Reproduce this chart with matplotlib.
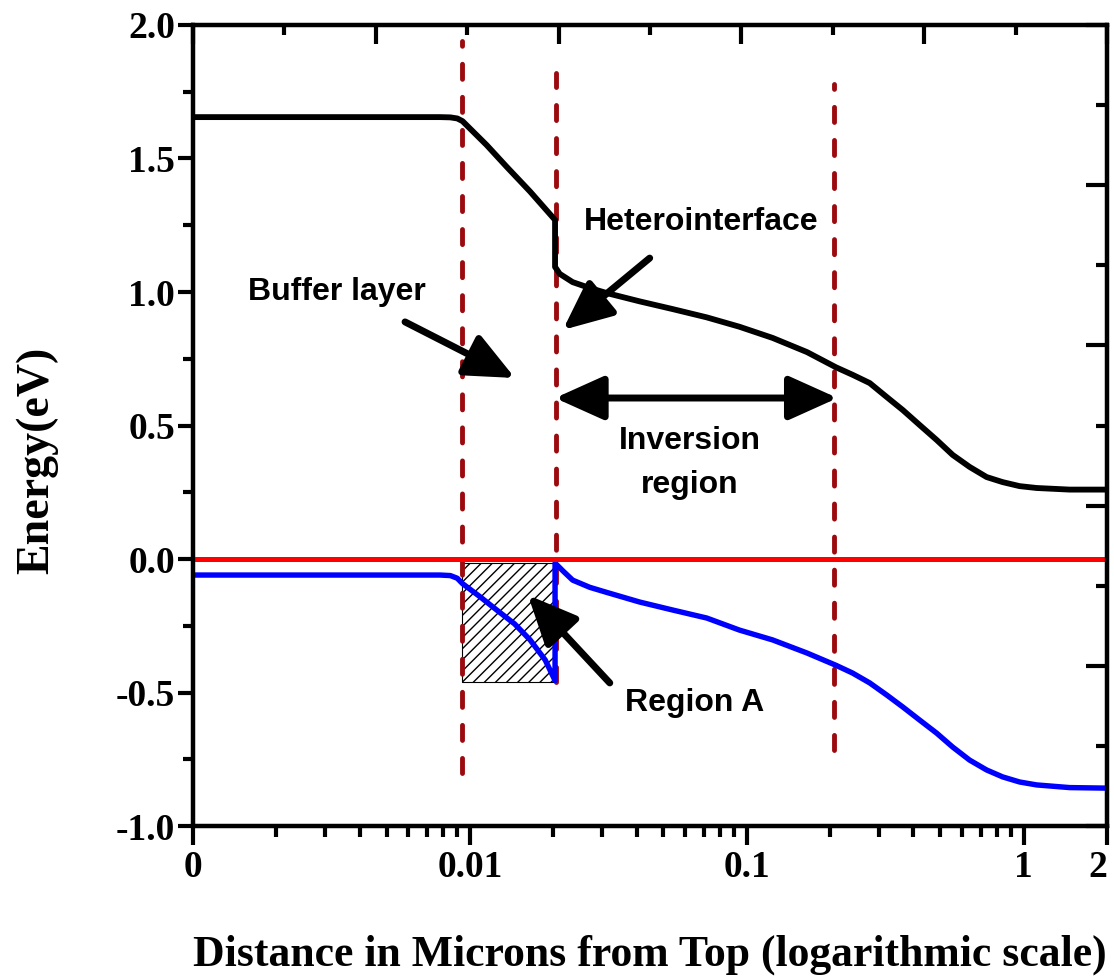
import matplotlib.pyplot as plt
import matplotlib.ticker as mticker
import numpy as np

# === Data ===
# distance from top in microns, log axis; leftmost edge (0.001) is labelled "0"
cb_x = [0.001, 0.0078, 0.0085, 0.009, 0.0094, 0.0115, 0.0136, 0.0165, 0.0203, 0.0203,
        0.0211, 0.0235, 0.0271, 0.0312, 0.041, 0.054, 0.0717, 0.094, 0.124, 0.165,
        0.21, 0.241, 0.278, 0.32, 0.366, 0.421, 0.485, 0.554, 0.638, 0.735,
        0.84, 0.967, 1.114, 1.466, 2.0]
cb_y = [1.655, 1.655, 1.654, 1.65, 1.64, 1.55, 1.468, 1.376, 1.27, 1.094,
        1.068, 1.037, 1.015, 0.996, 0.965, 0.936, 0.905, 0.87, 0.828, 0.775,
        0.718, 0.69, 0.659, 0.607, 0.558, 0.502, 0.446, 0.39, 0.345, 0.307,
        0.288, 0.273, 0.266, 0.26, 0.26]

vb_x = [0.001, 0.0078, 0.0085, 0.009, 0.0094, 0.0109, 0.0125, 0.0145, 0.0165, 0.0187,
        0.0203, 0.0203, 0.0217, 0.0235, 0.0271, 0.0312, 0.041, 0.054, 0.0717, 0.094,
        0.124, 0.165, 0.21, 0.241, 0.278, 0.32, 0.366, 0.421, 0.485, 0.554,
        0.638, 0.735, 0.84, 0.967, 1.114, 1.466, 2.0]
vb_y = [-0.06, -0.06, -0.062, -0.072, -0.092, -0.142, -0.191, -0.243, -0.303, -0.378,
        -0.455, -0.015, -0.045, -0.079, -0.106, -0.125, -0.161, -0.191, -0.221, -0.266,
        -0.303, -0.352, -0.398, -0.427, -0.464, -0.509, -0.554, -0.603, -0.652, -0.704,
        -0.753, -0.79, -0.816, -0.835, -0.846, -0.856, -0.858]

fermi_level = 0.0

# dashed boundaries: x position, bottom, top
boundary_x = [0.0094, 0.0205, 0.207]
boundary_lo = [-0.80, -0.46, -0.715]
boundary_hi = [1.94, 1.82, 1.78]

# hatched "Region A" box
region_a_x = (0.0094, 0.0204)
region_a_y = (-0.46, -0.015)

xtick_vals = [0.001, 0.01, 0.1, 1, 2]
xtick_labels = ['0', '0.01', '0.1', '1', '2']
ytick_vals = [-1.0, -0.5, 0.0, 0.5, 1.0, 1.5, 2.0]

serif = 'Liberation Serif'
sans = 'Liberation Sans'
plt.rcParams['hatch.linewidth'] = 1.0

fig = plt.figure(figsize=(11.14, 9.8), dpi=100)
ax = fig.add_axes([0.1733, 0.1571, 0.8204, 0.8174])

# === Curves ===
ax.plot(cb_x, cb_y, color='black', lw=4.2, solid_joinstyle='round', zorder=4)
ax.plot(vb_x, vb_y, color='#0000ff', lw=3.9, solid_joinstyle='round', zorder=4)
ax.axhline(fermi_level, color='#ff0000', lw=3.6, zorder=5)

ax.fill_between(region_a_x, region_a_y[0], region_a_y[1], facecolor='white',
                edgecolor='black', hatch='///', lw=0.8, zorder=2)

for bx, lo, hi in zip(boundary_x, boundary_lo, boundary_hi):
    ax.plot([bx, bx], [lo, hi], color='#9b0a0e', lw=3.5, dashes=(3.1, 3.7),
            dash_capstyle='round', zorder=3)

# === Annotations ===
arrow = dict(arrowstyle='-|>,head_length=1.0,head_width=0.45', lw=5,
             color='black', mutation_scale=30, shrinkA=0, shrinkB=0)
txt = dict(fontsize=23, fontweight='bold', family=sans, ha='center', va='center')

ax.text(0.00331, 1.0, 'Buffer layer', **txt)
ax.annotate('', xy=(0.01454, 0.678), xytext=(0.00583, 0.888), arrowprops=arrow, zorder=6)

ax.text(0.0682, 1.262, 'Heterointerface', **txt)
ax.annotate('', xy=(0.02166, 0.858), xytext=(0.0446, 1.127), arrowprops=arrow, zorder=6)

ax.annotate('', xy=(0.2128, 0.603), xytext=(0.0203, 0.603),
            arrowprops=dict(arrow, arrowstyle='<|-|>,head_length=1.0,head_width=0.45'),
            zorder=6)
ax.text(0.0623, 0.36, 'Inversion\nregion', linespacing=1.6, **txt)

ax.text(0.0649, -0.539, 'Region A', **txt)
ax.annotate('', xy=(0.0162, -0.135), xytext=(0.032, -0.464), arrowprops=arrow, zorder=6)

# === Axes ===
ax.set_xscale('log')
ax.set_xlim(0.001, 2)
ax.set_ylim(-1, 2)
ax.xaxis.set_major_locator(mticker.FixedLocator(xtick_vals))
ax.xaxis.set_major_formatter(mticker.FixedFormatter(xtick_labels))
ax.xaxis.set_minor_locator(mticker.LogLocator(base=10, subs=np.arange(2, 10), numticks=20))
ax.xaxis.set_minor_formatter(mticker.NullFormatter())
ax.set_yticks(ytick_vals)
ax.yaxis.set_major_formatter(mticker.FormatStrFormatter('%.1f'))
ax.yaxis.set_minor_locator(mticker.MultipleLocator(0.25))

ax.tick_params(which='both', direction='out', width=3, top=False, right=False)
ax.tick_params(axis='x', which='major', length=14, pad=3)
ax.tick_params(axis='x', which='minor', length=8)
ax.tick_params(axis='y', which='major', length=11, pad=2)
ax.tick_params(axis='y', which='minor', length=7)
for lab in ax.get_xticklabels() + ax.get_yticklabels():
    lab.set_fontfamily(serif)
    lab.set_fontweight('bold')
    lab.set_fontsize(27)
ax.get_xticklabels()[-1].set_horizontalalignment('right')

ax.set_xlabel('Distance in Microns from Top (logarithmic scale)', family=serif,
              fontweight='bold', fontsize=31.5, labelpad=36)
ax.set_ylabel('Energy(eV)', family=serif, fontweight='bold', fontsize=33)
ax.yaxis.set_label_coords(-0.148, 0.457)

for sp in ax.spines.values():
    sp.set_linewidth(3)

# top spine: linear inward ticks, no labels
axt = ax.twiny()
axt.set_xlim(0, 10)
axt.xaxis.set_major_locator(mticker.MultipleLocator(2))
axt.xaxis.set_minor_locator(mticker.MultipleLocator(1))
axt.tick_params(which='both', direction='in', width=3, labeltop=False)
axt.tick_params(which='major', length=14)
axt.tick_params(which='minor', length=7)

# right spine: linear inward ticks, no labels
axr = ax.twinx()
axr.set_ylim(0, 10)
axr.yaxis.set_major_locator(mticker.MultipleLocator(2))
axr.yaxis.set_minor_locator(mticker.MultipleLocator(1))
axr.tick_params(which='both', direction='in', width=3, labelright=False)
axr.tick_params(which='major', length=15)
axr.tick_params(which='minor', length=8)

for a in (axt, axr):
    for sp in a.spines.values():
        sp.set_linewidth(3)

fig.savefig('out.png', dpi=100)
